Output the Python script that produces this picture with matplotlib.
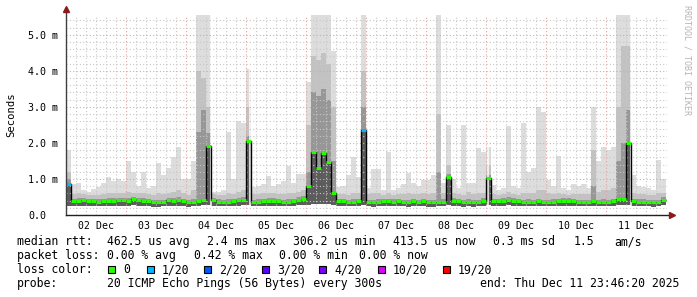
import matplotlib
matplotlib.use("Agg")
import matplotlib.pyplot as plt
from matplotlib.patches import Rectangle
import numpy as np

W, H = 697, 297
MONO = "DejaVu Sans Mono"

days = ["02 Dec", "03 Dec", "04 Dec", "05 Dec", "06 Dec",
        "07 Dec", "08 Dec", "09 Dec", "10 Dec", "11 Dec"]
ytick_labels = ["0.0", "1.0 m", "2.0 m", "3.0 m", "4.0 m", "5.0 m"]

loss_labels = ["0", "1/20", "2/20", "3/20", "4/20", "10/20", "19/20"]
loss_colors = ["#26ff00", "#00b8ff", "#0059ff", "#5e00ff", "#7e00ff", "#dd00ff", "#ff0000"]

# 2 hour bins starting Dec 02 00:00, values in ms (one row per day)
med = [
    0.85, 0.38, 0.40, 0.42, 0.38, 0.38, 0.37, 0.38, 0.38, 0.40, 0.42, 0.42,
    0.40, 0.45, 0.42, 0.40, 0.38, 0.35, 0.35, 0.36, 0.42, 0.40, 0.42, 0.38,
    0.35, 0.36, 0.40, 0.42, 1.91, 0.42, 0.37, 0.36, 0.36, 0.38, 0.42, 0.42,
    2.05, 0.36, 0.37, 0.38, 0.40, 0.40, 0.38, 0.36, 0.37, 0.38, 0.42, 0.45,
    0.80, 1.74, 1.30, 1.73, 1.46, 0.62, 0.38, 0.38, 0.36, 0.36, 0.38, 2.35,
    0.36, 0.35, 0.37, 0.38, 0.38, 0.37, 0.38, 0.36, 0.35, 0.38, 0.36, 0.38,
    0.35, 0.35, 0.37, 0.37, 1.05, 0.40, 0.38, 0.35, 0.36, 0.35, 0.36, 0.40,
    1.03, 0.38, 0.38, 0.40, 0.42, 0.40, 0.38, 0.36, 0.37, 0.36, 0.38, 0.36,
    0.36, 0.37, 0.38, 0.40, 0.40, 0.38, 0.36, 0.36, 0.36, 0.38, 0.36, 0.37,
    0.36, 0.38, 0.44, 0.44, 2.00, 0.38, 0.37, 0.37, 0.36, 0.35, 0.36, 0.42,
]
loss = [
    1, 0, 0, 0, 0, 0, 0, 0, 0, 0, 0, 0,
    0, 0, 0, 0, 0, 0, 0, 0, 0, 0, 0, 0,
    0, 0, 0, 0, 0, 0, 0, 0, 0, 0, 0, 0,
    0, 0, 0, 0, 0, 0, 0, 0, 0, 0, 0, 0,
    0, 0, 0, 0, 0, 0, 0, 0, 0, 0, 0, 1,
    0, 0, 0, 0, 0, 0, 0, 0, 0, 0, 0, 0,
    0, 0, 0, 0, 0, 0, 0, 0, 0, 0, 0, 0,
    0, 0, 0, 0, 0, 0, 0, 0, 0, 0, 0, 0,
    0, 0, 0, 0, 0, 0, 0, 0, 0, 0, 0, 0,
    0, 0, 0, 0, 0, 0, 0, 0, 0, 0, 0, 0,
]
# smoke: lowest ping, dark band top, mid grey top, highest ping
ping_lo = [
    0.26, 0.25, 0.25, 0.26, 0.25, 0.25, 0.25, 0.25, 0.25, 0.26, 0.26, 0.26,
    0.26, 0.27, 0.26, 0.25, 0.25, 0.23, 0.23, 0.24, 0.26, 0.26, 0.26, 0.25,
    0.22, 0.24, 0.26, 0.27, 0.28, 0.26, 0.25, 0.24, 0.24, 0.25, 0.26, 0.27,
    0.28, 0.24, 0.25, 0.25, 0.26, 0.26, 0.25, 0.24, 0.25, 0.25, 0.27, 0.28,
    0.28, 0.30, 0.30, 0.30, 0.30, 0.28, 0.25, 0.25, 0.24, 0.24, 0.25, 0.28,
    0.24, 0.23, 0.24, 0.25, 0.25, 0.24, 0.25, 0.24, 0.23, 0.25, 0.24, 0.25,
    0.23, 0.23, 0.24, 0.24, 0.27, 0.26, 0.25, 0.23, 0.24, 0.23, 0.24, 0.26,
    0.27, 0.25, 0.25, 0.26, 0.27, 0.26, 0.25, 0.24, 0.24, 0.24, 0.25, 0.24,
    0.24, 0.24, 0.25, 0.26, 0.26, 0.25, 0.24, 0.24, 0.24, 0.25, 0.24, 0.24,
    0.24, 0.25, 0.27, 0.27, 0.28, 0.25, 0.24, 0.24, 0.24, 0.23, 0.24, 0.27,
]
ping_dk = [
    1.00, 0.45, 0.47, 0.48, 0.45, 0.45, 0.44, 0.45, 0.46, 0.47, 0.48, 0.48,
    0.47, 0.50, 0.48, 0.47, 0.45, 0.42, 0.43, 0.43, 0.48, 0.47, 0.49, 0.45,
    0.42, 0.45, 2.30, 2.90, 2.27, 0.48, 0.44, 0.43, 0.44, 0.45, 0.48, 0.49,
    2.20, 0.43, 0.44, 0.45, 0.47, 0.47, 0.45, 0.43, 0.44, 0.45, 0.49, 0.52,
    1.20, 3.40, 3.30, 3.50, 3.20, 1.50, 0.45, 0.45, 0.43, 0.44, 0.45, 3.00,
    0.43, 0.42, 0.44, 0.45, 0.45, 0.44, 0.45, 0.43, 0.42, 0.45, 0.43, 0.45,
    0.42, 0.43, 1.20, 0.44, 1.15, 0.47, 0.45, 0.42, 0.44, 0.42, 0.43, 0.47,
    1.10, 0.45, 0.45, 0.47, 0.49, 0.47, 0.45, 0.43, 0.44, 0.43, 0.45, 0.43,
    0.43, 0.44, 0.45, 0.47, 0.47, 0.45, 0.43, 0.43, 0.43, 0.80, 0.43, 0.44,
    0.43, 0.45, 1.50, 2.00, 2.90, 0.45, 0.44, 0.44, 0.43, 0.42, 0.43, 0.49,
]
ping_mg = [
    1.20, 0.58, 0.60, 0.58, 0.55, 0.55, 0.55, 0.58, 0.62, 0.60, 0.62, 0.62,
    0.65, 0.62, 0.60, 0.62, 0.58, 0.55, 0.60, 0.58, 0.62, 0.65, 0.70, 0.60,
    0.55, 0.70, 4.00, 3.80, 3.00, 0.58, 0.55, 0.55, 0.62, 0.58, 0.65, 0.70,
    3.00, 0.58, 0.58, 0.60, 0.62, 0.60, 0.58, 0.58, 0.62, 0.60, 0.65, 0.70,
    2.50, 4.40, 4.30, 4.50, 4.20, 3.00, 0.58, 0.58, 0.56, 0.60, 0.60, 4.00,
    0.58, 0.60, 0.60, 0.56, 0.62, 0.56, 0.58, 0.58, 0.60, 0.58, 0.58, 0.62,
    0.58, 0.62, 2.80, 0.60, 1.40, 0.62, 0.58, 0.56, 0.65, 0.58, 0.62, 0.62,
    1.40, 0.58, 0.56, 0.58, 0.65, 0.58, 0.56, 0.62, 0.60, 0.62, 0.70, 0.68,
    0.62, 0.58, 0.62, 0.58, 0.56, 0.58, 0.58, 0.58, 0.58, 1.80, 0.65, 0.70,
    0.70, 0.75, 3.00, 4.70, 4.70, 0.62, 0.58, 0.58, 0.56, 0.56, 0.62, 0.62,
]
ping_mx = [
    1.80, 0.85, 0.90, 0.70, 0.65, 0.72, 0.78, 0.90, 1.05, 0.95, 1.00, 0.95,
    1.50, 1.20, 0.80, 1.20, 0.75, 0.80, 1.45, 1.10, 1.30, 1.60, 1.90, 1.00,
    1.00, 1.50, 5.60, 5.60, 5.60, 0.65, 0.65, 0.70, 2.30, 1.00, 2.62, 2.55,
    4.06, 0.78, 0.80, 0.85, 1.08, 0.80, 0.85, 0.95, 1.36, 0.90, 1.15, 1.15,
    3.68, 5.60, 5.60, 5.60, 5.60, 4.55, 0.78, 0.80, 1.10, 1.61, 1.05, 5.60,
    0.75, 1.27, 1.27, 0.70, 1.75, 0.70, 0.75, 0.85, 1.16, 0.90, 0.80, 0.98,
    0.98, 1.10, 5.60, 0.90, 2.50, 1.00, 0.75, 2.50, 0.90, 0.90, 1.85, 1.75,
    1.90, 0.82, 0.70, 0.75, 2.46, 0.80, 0.75, 2.55, 1.20, 1.30, 3.00, 2.85,
    0.98, 0.80, 1.63, 0.75, 0.70, 0.87, 0.80, 0.85, 0.75, 3.00, 1.50, 1.90,
    1.80, 1.90, 5.60, 5.60, 5.60, 1.10, 0.80, 0.78, 0.75, 0.70, 1.52, 1.00,
]
gap_hours = [57.8, 73.6, 168.8, 225.8]


def fx(px):
    return px / W


def fy(py):
    return 1 - py / H


fig = plt.figure(figsize=(W / 100, H / 100), dpi=100)
fig.patch.set_facecolor("white")
ax = fig.add_axes([fx(66), fy(215), 601 / W, 200 / H])

edges = np.arange(len(med) + 1) * 2.0
ax.stairs(ping_mx, edges, baseline=ping_lo, fill=True, color="#dddddd", zorder=1)
ax.stairs(ping_mg, edges, baseline=ping_lo, fill=True, color="#c2c2c2", zorder=1.1)
ax.stairs(ping_dk, edges, baseline=ping_lo, fill=True, color="#979797", zorder=1.2)
ax.stairs(med, edges, baseline=ping_lo, fill=True, color="#5c5c5c", zorder=1.3)
for g in gap_hours:
    ax.axvline(g, color="white", lw=1.1, zorder=1.5)

# grid
for h in np.arange(4, 240, 4):
    major = h % 24 == 0
    ax.axvline(h, color="#e8a0a0" if major else "#c8c8c8", lw=0.8,
               ls=(0, (1, 2)), zorder=3)
for v in np.arange(0.2, 5.5, 0.2):
    major = abs(v - round(v)) < 1e-6
    ax.axhline(v, color="#e8a0a0" if major else "#c8c8c8", lw=0.8,
               ls=(0, (1, 2)), zorder=3)

# median
ax.stairs(med, edges, baseline=None, color="black", lw=1.0, zorder=5)
ax.hlines(med, edges[:-1], edges[1:], colors=[loss_colors[i] for i in loss],
          lw=2.2, zorder=6)

ax.set_xlim(0, 240.4)
ax.set_ylim(0, 5.55)
for s in ax.spines.values():
    s.set_visible(False)

ax.set_xticks([12 + 24 * i for i in range(len(days))])
ax.set_xticklabels(days, family=MONO, fontsize=7.1)
ax.tick_params(axis="x", length=0, pad=4)
ax.set_yticks(range(len(ytick_labels)))
ax.set_yticklabels(ytick_labels, family=MONO, fontsize=7.2)
ax.tick_params(axis="y", length=0, pad=27.4)
for lbl in ax.get_yticklabels():
    lbl.set_horizontalalignment("left")

# axes with arrows
ax.plot([0, 0], [0, 1.03], transform=ax.transAxes, color="#404040", lw=1,
        clip_on=False, zorder=7)
ax.plot([0, 1.008], [0, 0], transform=ax.transAxes, color="#202020", lw=1,
        clip_on=False, zorder=7)
ax.plot([0], [1.03], marker="^", ms=4, color="#8b1a1a", transform=ax.transAxes,
        clip_on=False, zorder=8)
ax.plot([1.008], [0], marker=">", ms=4, color="#8b1a1a", transform=ax.transAxes,
        clip_on=False, zorder=8)

fig.text(fx(11), fy(115), "Seconds", rotation=90, ha="center", va="center",
         family=MONO, fontsize=7.6)
fig.text(fx(687), fy(5), "RRDTOOL / TOBI OETIKER", rotation=270, ha="center",
         va="top", family=MONO, fontsize=6, color="#b4b4b4")

# legend text
lines = [
    (245.3, [(16.7, "median rtt:"), (107, "462.5 us avg"), (207, "2.4 ms max"),
             (293, "306.2 us min"), (393, "413.5 us now"), (493, "0.3 ms sd"),
             (574, "1.5"), (614, "am/s")]),
    (259.3, [(16.7, "packet loss:"), (107, "0.00 % avg"), (194, "0.42 % max"),
             (279, "0.00 % min"), (358.5, "0.00 % now")]),
    (273.3, [(16.7, "loss color:")]),
    (287.3, [(16.7, "probe:"), (107, "20 ICMP Echo Pings (56 Bytes) every 300s"),
             (480, "end: Thu Dec 11 23:46:20 2025")]),
]
for base, parts in lines:
    for x, s in parts:
        fig.text(fx(x), fy(base), s, ha="left", va="baseline", family=MONO,
                 fontsize=8.3)

box_x = [108, 147, 204, 262, 319, 378, 443]
for bx, c, lab in zip(box_x, loss_colors, loss_labels):
    fig.patches.append(Rectangle((fx(bx), fy(272.7)), 7 / W, 7 / H,
                                 transform=fig.transFigure, facecolor=c,
                                 edgecolor="black", lw=0.8))
    fig.text(fx(bx + 15), fy(273.3), lab, ha="left", va="baseline",
             family=MONO, fontsize=8.3)

fig.savefig("out.png", dpi=100, facecolor="white")
